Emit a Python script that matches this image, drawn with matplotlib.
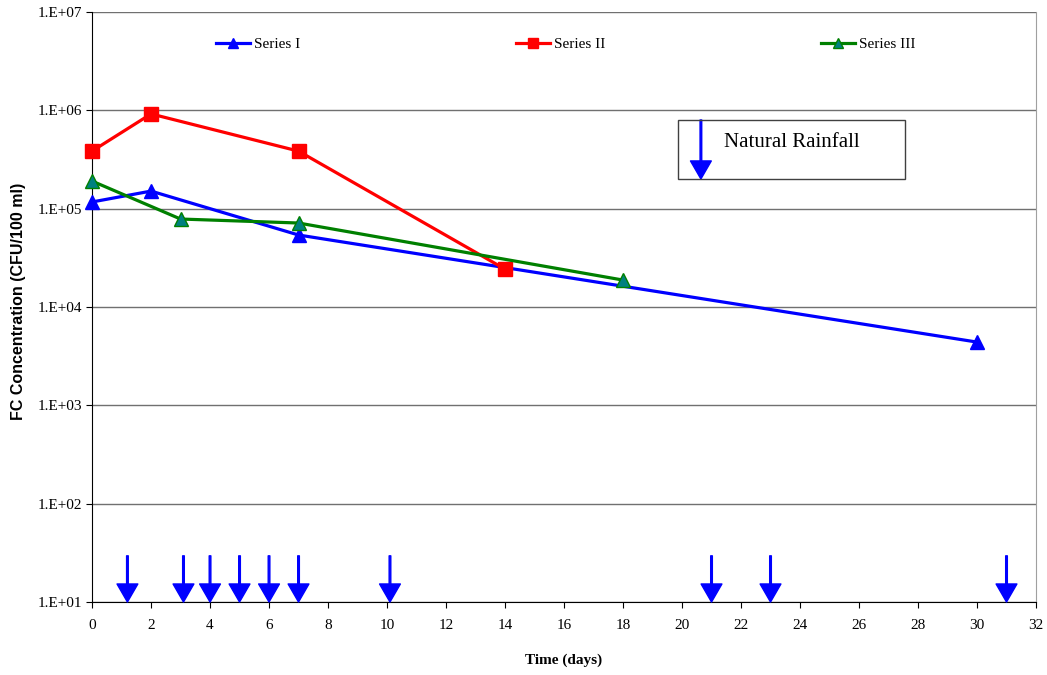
import matplotlib.pyplot as plt
from matplotlib.patches import Rectangle

# data
days_1 = [0, 2, 7, 30]
fc_1 = [1.17e5, 1.51e5, 5.4e4, 4.4e3]

days_2 = [0, 2, 7, 14]
fc_2 = [3.85e5, 9.2e5, 3.85e5, 2.43e4]

days_3 = [0, 3, 7, 18]
fc_3 = [1.91e5, 7.85e4, 7.15e4, 1.88e4]

rain_days = [1.2, 3.1, 4, 5, 6, 7, 10.1, 21, 23, 31]

y_ticks = [1e1, 1e2, 1e3, 1e4, 1e5, 1e6, 1e7]
y_labels = ['1.E+01', '1.E+02', '1.E+03', '1.E+04', '1.E+05', '1.E+06', '1.E+07']
x_ticks = list(range(0, 33, 2))

serif = 'Liberation Serif'

fig = plt.figure(figsize=(10.47, 6.75), dpi=100)
ax = fig.add_axes([0.0879, 0.1081, 0.9016, 0.8741])

ax.plot(days_1, fc_1, color='blue', lw=2.3, marker='^', ms=10,
        mfc='blue', mec='blue', label='Series I', zorder=3, clip_on=False)
ax.plot(days_2, fc_2, color='red', lw=2.3, marker='s', ms=9.5,
        mfc='red', mec='red', label='Series II', zorder=3, clip_on=False)
ax.plot(days_3, fc_3, color='green', lw=2.3, marker='^', ms=10,
        mfc='#008080', mec='green', label='Series III', zorder=3, clip_on=False)

# rainfall arrows
for d in rain_days:
    ax.annotate('', xy=(d, 10), xytext=(d, 29.5),
                arrowprops=dict(color='blue', width=1.2, headwidth=15,
                                headlength=13, shrink=0),
                annotation_clip=False)

ax.set_yscale('log')
ax.set_ylim(10, 1e7)
ax.set_xlim(0, 32)
ax.set_yticks(y_ticks)
ax.set_yticklabels(y_labels, fontfamily=serif, fontsize=11)
ax.minorticks_off()
ax.set_xticks(x_ticks)
ax.set_xticklabels([str(t) for t in x_ticks], fontfamily=serif, fontsize=11)
ax.tick_params(axis='both', direction='out', length=4, color='black')
ax.tick_params(axis='x', pad=8)
ax.tick_params(axis='y', pad=3)

ax.grid(axis='y', color='#707070', lw=1)
ax.set_axisbelow(True)
ax.spines['top'].set_visible(False)
ax.spines['right'].set_color('#a0a0a0')

ax.set_ylabel('FC Concentration (CFU/100 ml)', fontfamily='Liberation Sans',
              fontweight='bold', fontsize=11.5)
ax.yaxis.set_label_coords(-0.07, 0.51)
ax.set_xlabel('Time (days)', fontfamily=serif, fontweight='bold',
              fontsize=11, labelpad=16)

ax.legend(loc='upper left', bbox_to_anchor=(0.117, 0.98), ncol=3,
          frameon=False, prop={'family': serif, 'size': 11},
          handlelength=2.2, handletextpad=0.3, columnspacing=14.1,
          markerscale=0.75)

# Natural Rainfall key box
ax.add_patch(Rectangle((0.6208, 0.717), 0.2405, 0.1, transform=ax.transAxes,
                       fill=False, ec='#404040', lw=1, zorder=4))
ax.annotate('', xy=(0.645, 0.717), xytext=(0.645, 0.817),
            xycoords='axes fraction', textcoords='axes fraction',
            arrowprops=dict(color='blue', width=1.2, headwidth=15,
                            headlength=13, shrink=0))
ax.text(0.669, 0.779, 'Natural Rainfall', transform=ax.transAxes,
        fontfamily=serif, fontsize=15, va='center', ha='left')

fig.savefig('out.png', dpi=100)
